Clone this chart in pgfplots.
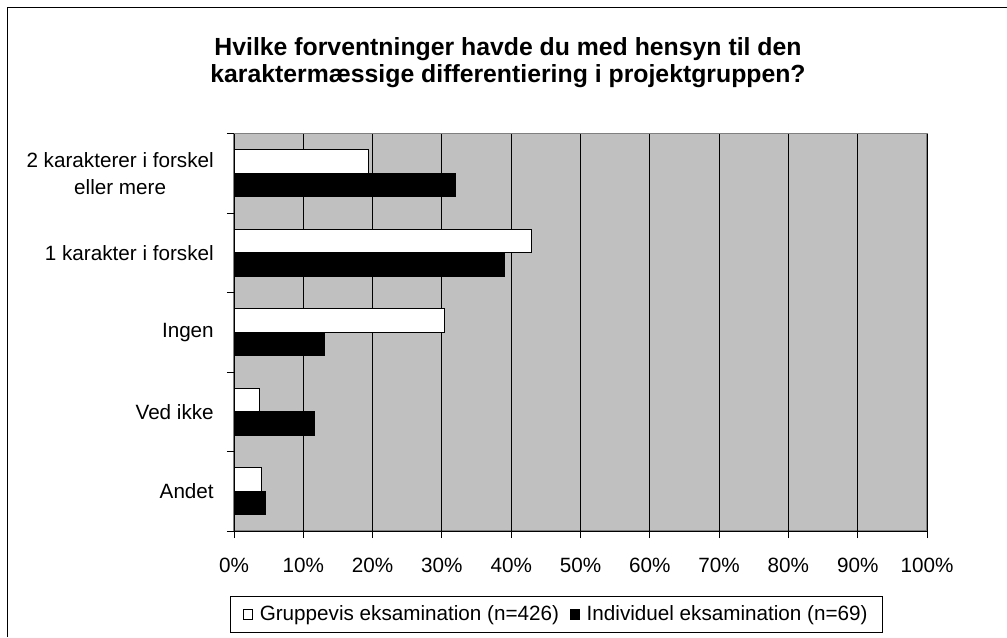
\documentclass[border=0pt]{standalone}
\usepackage{fontspec}
\setmainfont{Liberation Sans}
\usepackage{pgfplots}
\pgfplotsset{compat=1.18}
\definecolor{plotbg}{RGB}{192,192,192}
\definecolor{bordergray}{RGB}{128,128,128}
\begin{document}
\begin{tikzpicture}
\useasboundingbox (0,0) rectangle (755.25pt,477.75pt);
\draw[black, line width=0.75pt] (5.25pt,0pt) -- (5.25pt,471.75pt) -- (755.25pt,471.75pt);
\node[font=\fontsize{18.6}{20.5}\selectfont\bfseries, align=center] at (381pt,431pt)
  {Hvilke forventninger havde du med hensyn til den\\karaktermæssige differentiering i projektgruppen?};
\begin{axis}[
  at={(175.5pt,79.5pt)}, anchor=south west,
  scale only axis, width=519.75pt, height=298.1pt,
  xmin=0, xmax=100, ymin=-0.5, ymax=4.5,
  xbar,
  bar width=17.6pt,
  axis background/.style={fill=plotbg, draw=bordergray, line width=1pt},
  axis x line*=bottom, axis y line*=left,
  axis line style={black, line width=0.75pt},
  xtick={0,10,...,100},
  xticklabels={0\%,10\%,20\%,30\%,40\%,50\%,60\%,70\%,80\%,90\%,100\%},
  xmajorgrids, major grid style={black, line width=0.75pt},
  ytick={0,1,2,3,4},
  yticklabels={Andet, Ved ikke, Ingen, 1 karakter i forskel, {2 karakterer i forskel\\eller mere}},
  minor ytick={-0.5,0.5,1.5,2.5,3.5,4.5},
  major y tick style={draw=none},
  minor y tick style={black, line width=0.75pt},
  major x tick style={black, line width=0.75pt},
  tick align=outside,
  major tick length=5.25pt, minor tick length=5.25pt,
  tick label style={font=\fontsize{15.5}{20}\selectfont},
  xticklabel style={anchor=center, yshift=-20.5pt},
  yticklabel style={anchor=east, inner sep=0pt, xshift=-9.75pt, align=center},
  legend style={at={(0.4654,-0.210)}, anchor=center, draw=black, line width=0.75pt,
    font=\fontsize{15.5}{18}\selectfont, inner xsep=9pt, inner ysep=5pt,
    /tikz/every odd column/.append style={column sep=3pt},
    /tikz/every even column/.append style={column sep=6pt}},
  legend columns=2,
]
\addplot[draw=black, fill=white, line width=0.75pt, bar shift=8.8pt,
  legend image code/.code={\draw[black,fill=white,line width=0.75pt] (0pt,-3.5pt) rectangle (7pt,3.5pt);}]
  coordinates {(3.9,0) (3.7,1) (30.4,2) (42.9,3) (19.4,4)};
\addlegendentry{Gruppevis eksamination (n=426)}
\addplot[draw=black, fill=black, line width=0.75pt, bar shift=-8.8pt,
  legend image code/.code={\draw[black,fill=black,line width=0.75pt] (0pt,-3.5pt) rectangle (7pt,3.5pt);}]
  coordinates {(4.5,0) (11.6,1) (13.1,2) (39.0,3) (32.0,4)};
\addlegendentry{Individuel eksamination (n=69)}
\end{axis}
\end{tikzpicture}
\end{document}
